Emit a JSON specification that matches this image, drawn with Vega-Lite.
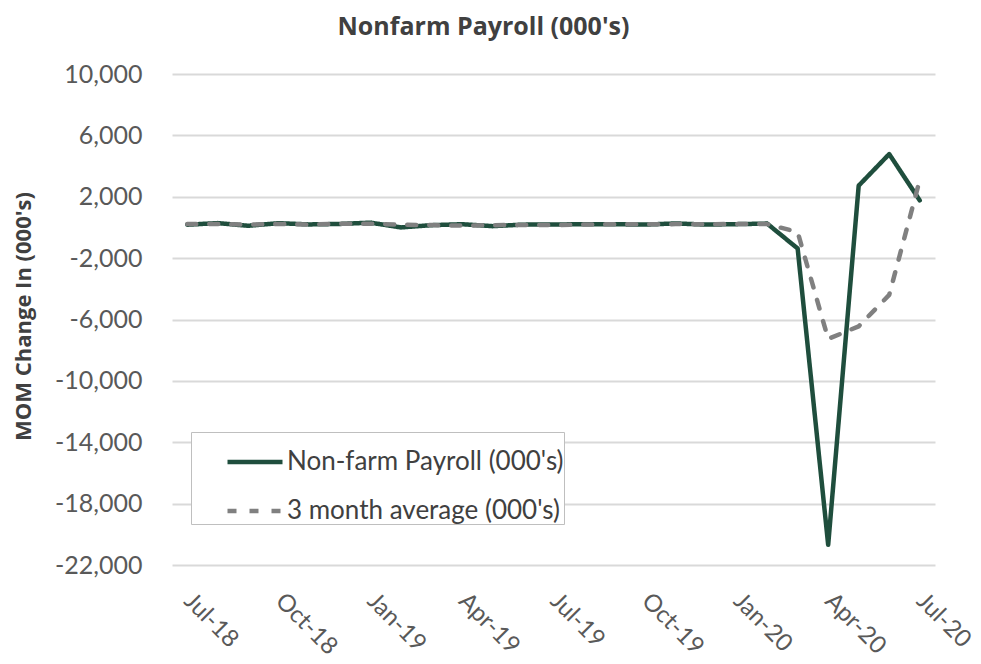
{
  "$schema": "https://vega.github.io/schema/vega-lite/v6.json",
  "width": 763,
  "height": 491,
  "autosize": {"type": "none"},
  "padding": {"left": 172, "top": 74, "right": 46, "bottom": 99},
  "background": "white",
  "title": {
    "text": "Nonfarm Payroll (000's)",
    "font": "Open Sans",
    "fontSize": 25,
    "fontWeight": "bold",
    "color": "#404040",
    "anchor": "middle",
    "dx": -70,
    "offset": 22
  },
  "config": {
    "view": {"stroke": null},
    "font": "Lato"
  },
  "data": {
    "values": [
      {"month": "Jul-18", "series": "Non-farm Payroll (000's)", "value": 178},
      {"month": "Aug-18", "series": "Non-farm Payroll (000's)", "value": 282},
      {"month": "Sep-18", "series": "Non-farm Payroll (000's)", "value": 108},
      {"month": "Oct-18", "series": "Non-farm Payroll (000's)", "value": 277},
      {"month": "Nov-18", "series": "Non-farm Payroll (000's)", "value": 196},
      {"month": "Dec-18", "series": "Non-farm Payroll (000's)", "value": 227},
      {"month": "Jan-19", "series": "Non-farm Payroll (000's)", "value": 312},
      {"month": "Feb-19", "series": "Non-farm Payroll (000's)", "value": 1},
      {"month": "Mar-19", "series": "Non-farm Payroll (000's)", "value": 147},
      {"month": "Apr-19", "series": "Non-farm Payroll (000's)", "value": 210},
      {"month": "May-19", "series": "Non-farm Payroll (000's)", "value": 85},
      {"month": "Jun-19", "series": "Non-farm Payroll (000's)", "value": 182},
      {"month": "Jul-19", "series": "Non-farm Payroll (000's)", "value": 194},
      {"month": "Aug-19", "series": "Non-farm Payroll (000's)", "value": 207},
      {"month": "Sep-19", "series": "Non-farm Payroll (000's)", "value": 208},
      {"month": "Oct-19", "series": "Non-farm Payroll (000's)", "value": 185},
      {"month": "Nov-19", "series": "Non-farm Payroll (000's)", "value": 261},
      {"month": "Dec-19", "series": "Non-farm Payroll (000's)", "value": 184},
      {"month": "Jan-20", "series": "Non-farm Payroll (000's)", "value": 214},
      {"month": "Feb-20", "series": "Non-farm Payroll (000's)", "value": 251},
      {"month": "Mar-20", "series": "Non-farm Payroll (000's)", "value": -1373},
      {"month": "Apr-20", "series": "Non-farm Payroll (000's)", "value": -20687},
      {"month": "May-20", "series": "Non-farm Payroll (000's)", "value": 2725},
      {"month": "Jun-20", "series": "Non-farm Payroll (000's)", "value": 4781},
      {"month": "Jul-20", "series": "Non-farm Payroll (000's)", "value": 1763},
      {"month": "Jul-18", "series": "3 month average (000's)", "value": 218},
      {"month": "Aug-18", "series": "3 month average (000's)", "value": 223},
      {"month": "Sep-18", "series": "3 month average (000's)", "value": 189},
      {"month": "Oct-18", "series": "3 month average (000's)", "value": 222},
      {"month": "Nov-18", "series": "3 month average (000's)", "value": 194},
      {"month": "Dec-18", "series": "3 month average (000's)", "value": 233},
      {"month": "Jan-19", "series": "3 month average (000's)", "value": 245},
      {"month": "Feb-19", "series": "3 month average (000's)", "value": 180},
      {"month": "Mar-19", "series": "3 month average (000's)", "value": 153},
      {"month": "Apr-19", "series": "3 month average (000's)", "value": 119},
      {"month": "May-19", "series": "3 month average (000's)", "value": 147},
      {"month": "Jun-19", "series": "3 month average (000's)", "value": 159},
      {"month": "Jul-19", "series": "3 month average (000's)", "value": 154},
      {"month": "Aug-19", "series": "3 month average (000's)", "value": 194},
      {"month": "Sep-19", "series": "3 month average (000's)", "value": 203},
      {"month": "Oct-19", "series": "3 month average (000's)", "value": 200},
      {"month": "Nov-19", "series": "3 month average (000's)", "value": 218},
      {"month": "Dec-19", "series": "3 month average (000's)", "value": 210},
      {"month": "Jan-20", "series": "3 month average (000's)", "value": 220},
      {"month": "Feb-20", "series": "3 month average (000's)", "value": 216},
      {"month": "Mar-20", "series": "3 month average (000's)", "value": -303},
      {"month": "Apr-20", "series": "3 month average (000's)", "value": -7270},
      {"month": "May-20", "series": "3 month average (000's)", "value": -6445},
      {"month": "Jun-20", "series": "3 month average (000's)", "value": -4394},
      {"month": "Jul-20", "series": "3 month average (000's)", "value": 3090}
    ]
  },
  "mark": {"type": "line", "strokeWidth": 4.5, "strokeCap": "round", "strokeJoin": "round"},
  "encoding": {
    "x": {
      "field": "month",
      "type": "ordinal",
      "sort": null,
      "scale": {"type": "point", "padding": 0.5},
      "axis": {
        "title": null,
        "values": ["Jul-18", "Oct-18", "Jan-19", "Apr-19", "Jul-19", "Oct-19", "Jan-20", "Apr-20", "Jul-20"],
        "labelAngle": 45,
        "labelAlign": "left",
        "labelBaseline": "middle",
        "labelFontSize": 24,
        "labelColor": "#595959",
        "labelPadding": 32,
        "ticks": false,
        "domain": false,
        "grid": false
      }
    },
    "y": {
      "field": "value",
      "type": "quantitative",
      "scale": {"domain": [-22000, 10000], "nice": false, "zero": false},
      "axis": {
        "title": "MOM Change In (000's)",
        "titleFont": "Open Sans",
        "titleFontSize": 22,
        "titleFontWeight": "bold",
        "titleColor": "#404040",
        "titleX": -149,
        "titleY": 242,
        "titleAlign": "center",
        "titleBaseline": "middle",
        "titleAngle": -90,
        "values": [-22000, -18000, -14000, -10000, -6000, -2000, 2000, 6000, 10000],
        "labelExpr": "replace(format(datum.value, ',.0f'), '\u2212', '-')",
        "labelFontSize": 25,
        "labelColor": "#595959",
        "labelPadding": 30,
        "ticks": false,
        "domain": false,
        "grid": true,
        "gridColor": "#d9d9d9",
        "gridWidth": 2
      }
    },
    "color": {
      "field": "series",
      "type": "nominal",
      "sort": null,
      "scale": {
        "domain": ["Non-farm Payroll (000's)", "3 month average (000's)"],
        "range": ["#1f4e3d", "#808080"]
      },
      "legend": {
        "title": null,
        "orient": "none",
        "legendX": 19,
        "legendY": 358,
        "direction": "vertical",
        "fillColor": "white",
        "strokeColor": "#bfbfbf",
        "padding": 0,
        "symbolType": "M-1,0L1,0",
        "symbolSize": 3025,
        "symbolStrokeWidth": 4.5,
        "symbolOffset": 34,
        "labelFontSize": 26,
        "labelColor": "#404040",
        "labelOffset": 2,
        "labelLimit": 400,
        "rowPadding": 6
      }
    },
    "strokeDash": {
      "field": "series",
      "type": "nominal",
      "sort": null,
      "scale": {
        "domain": ["Non-farm Payroll (000's)", "3 month average (000's)"],
        "range": [[1, 0], [9, 13]]
      },
      "legend": null
    }
  }
}
